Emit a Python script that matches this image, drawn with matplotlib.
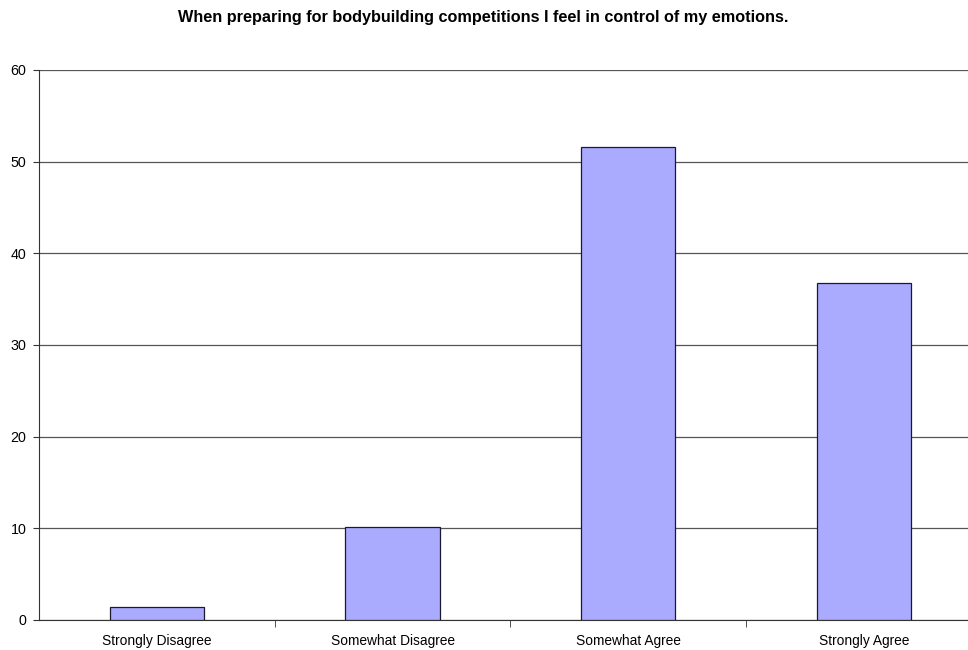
import numpy as np
import matplotlib.pyplot as plt

plt.rcParams['font.family'] = ['Liberation Sans', 'DejaVu Sans']

# survey responses (percent)
categories = ['Strongly Disagree', 'Somewhat Disagree', 'Somewhat Agree', 'Strongly Agree']
values = [1.4, 10.1, 51.6, 36.8]
title = 'When preparing for bodybuilding competitions I feel in control of my emotions.'

fig = plt.figure(figsize=(9.68, 6.5), dpi=100)
# plot area runs a little past the right edge, as in the original
ax = fig.add_axes([0.0403, 0.0462, 0.974, 0.8462])

x = np.arange(len(categories))
ax.bar(x, values, width=0.40, color='#AAAAFF', edgecolor='#1a1a2e', linewidth=0.9, zorder=3)

ax.set_xlim(-0.5, len(categories) - 0.5)
ax.set_ylim(0, 60)
ax.set_yticks(np.arange(0, 61, 10))
ax.yaxis.grid(True, color='#555555', linewidth=0.9)
ax.set_axisbelow(True)

# category labels centred, tick marks at category boundaries
ax.set_xticks(x)
ax.set_xticklabels(categories, fontsize=9.9)
ax.tick_params(axis='x', length=0, pad=10)
ax.set_xticks(np.arange(0.5, len(categories) - 1, 1), minor=True)
ax.tick_params(axis='x', which='minor', length=5, direction='out', color='#333333')
ax.tick_params(axis='y', length=4, direction='out', labelsize=10.3, color='#333333', pad=5)

for s in ['top', 'right']:
    ax.spines[s].set_visible(False)
ax.spines['left'].set_color('#333333')
ax.spines['bottom'].set_color('#333333')

fig.text(0.499, 0.973, title, ha='center', va='center', fontsize=11.7, fontweight='bold')

fig.savefig('out.png', dpi=100)
